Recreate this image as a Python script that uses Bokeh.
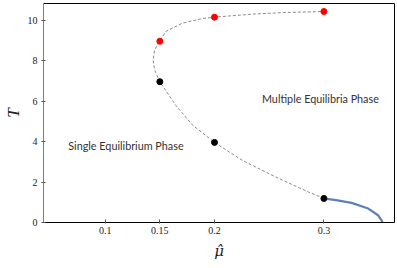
from bokeh.plotting import figure
from bokeh.models import FixedTicker, LinearAxis, Range1d, Label
from bokeh.embed import file_html
from bokeh.resources import INLINE

# dashed branch (unstable / boundary curve)
dash_mu = [0.3, 0.2858, 0.2555, 0.2252, 0.2, 0.1798, 0.1643, 0.15, 0.1452, 0.1438,
           0.1452, 0.15, 0.1553, 0.1705, 0.1888, 0.2, 0.2343, 0.2643, 0.3]
dash_T = [1.19, 1.51, 2.26, 3.08, 3.96, 4.82, 5.81, 6.96, 7.54, 8.03,
          8.53, 8.96, 9.44, 9.85, 10.08, 10.15, 10.30, 10.38, 10.43]

# solid blue branch
blue_mu = [0.3, 0.3125, 0.3253, 0.3405, 0.3495, 0.3527, 0.3535]
blue_T = [1.19, 1.09, 0.97, 0.69, 0.36, 0.11, 0.0]

# marked points
red_mu = [0.15, 0.2, 0.3]
red_T = [8.96, 10.15, 10.43]
black_mu = [0.15, 0.2, 0.3]
black_T = [6.96, 3.96, 1.19]

x_ticks = [0.1, 0.15, 0.2, 0.3]
x_tick_labels = ["0.1", "0.15", "0.2", "0.3"]
y_ticks = [0, 2, 4, 6, 8, 10]
y_tick_labels = ["0", "2", "4", "6", "8", "10"]

x_label = "\u03bc\u0302"
y_label = "T"
region_labels = ["Multiple Equilibria Phase", "Single Equilibrium Phase"]

p = figure(width=397, height=268, output_backend="svg", toolbar_location=None,
           x_range=Range1d(0.04364, 0.36455), y_range=Range1d(0, 10.826),
           min_border_left=41, min_border_right=3, min_border_top=3, min_border_bottom=46,
           x_axis_location=None, y_axis_location=None)
p.grid.visible = False
p.outline_line_color = None
p.background_fill_color = "white"
p.border_fill_color = "white"

serif = "'Liberation Serif'"

xa = LinearAxis(ticker=FixedTicker(ticks=x_ticks))
xa.major_label_overrides = {t: l for t, l in zip(x_ticks, x_tick_labels)}
xa.minor_tick_line_color = None
xa.major_tick_in = 3
xa.major_tick_out = 1
xa.major_label_standoff = 3
xa.axis_line_color = "black"
xa.major_tick_line_color = "#555555"
xa.major_label_text_font = serif
xa.major_label_text_font_size = "10px"
xa.major_label_text_color = "#222222"
xa.axis_label = x_label
xa.axis_label_text_font = "'DejaVu Serif'"
xa.axis_label_text_font_style = "italic"
xa.axis_label_text_font_size = "15px"
xa.axis_label_text_color = "#222222"
xa.axis_label_standoff = 5
p.add_layout(xa, "below")

ya = LinearAxis(ticker=FixedTicker(ticks=y_ticks))
ya.major_label_overrides = {t: l for t, l in zip(y_ticks, y_tick_labels)}
ya.minor_tick_line_color = None
ya.major_tick_in = 2
ya.major_tick_out = 2
ya.major_label_standoff = 4
ya.axis_line_color = "#808080"
ya.major_tick_line_color = "#555555"
ya.major_label_text_font = serif
ya.major_label_text_font_size = "10px"
ya.major_label_text_color = "#222222"
ya.axis_label = y_label
ya.axis_label_text_font = serif
ya.axis_label_text_font_style = "italic"
ya.axis_label_text_font_size = "17px"
ya.axis_label_text_color = "#222222"
ya.axis_label_standoff = 2
p.add_layout(ya, "left")

for loc in ("above", "right"):
    a = LinearAxis(ticker=FixedTicker(ticks=[]))
    a.major_tick_in = 0
    a.major_tick_out = 0
    a.minor_tick_line_color = None
    a.major_label_standoff = 0
    a.major_label_text_font_size = "0px"
    a.axis_line_color = "black"
    p.add_layout(a, loc)

p.line(dash_mu, dash_T, line_color="#8a8a8a", line_width=1, line_dash="3 2")
p.line(blue_mu, blue_T, line_color="#5e81b5", line_width=2.2)
p.scatter(red_mu, red_T, size=6, fill_color="#ff0000", line_color="#ff0000")
p.scatter(black_mu, black_T, size=6, fill_color="black", line_color="black")

p.add_layout(Label(x=0.2968, y=6.13, text=region_labels[0], text_font="Lato",
                   text_font_size="10.8px", text_color="#333333",
                   text_align="center", text_baseline="middle"))
p.add_layout(Label(x=0.119, y=3.79, text=region_labels[1], text_font="Lato",
                   text_font_size="10.8px", text_color="#333333",
                   text_align="center", text_baseline="middle"))

open("out.html", "w").write(file_html(p, INLINE))
